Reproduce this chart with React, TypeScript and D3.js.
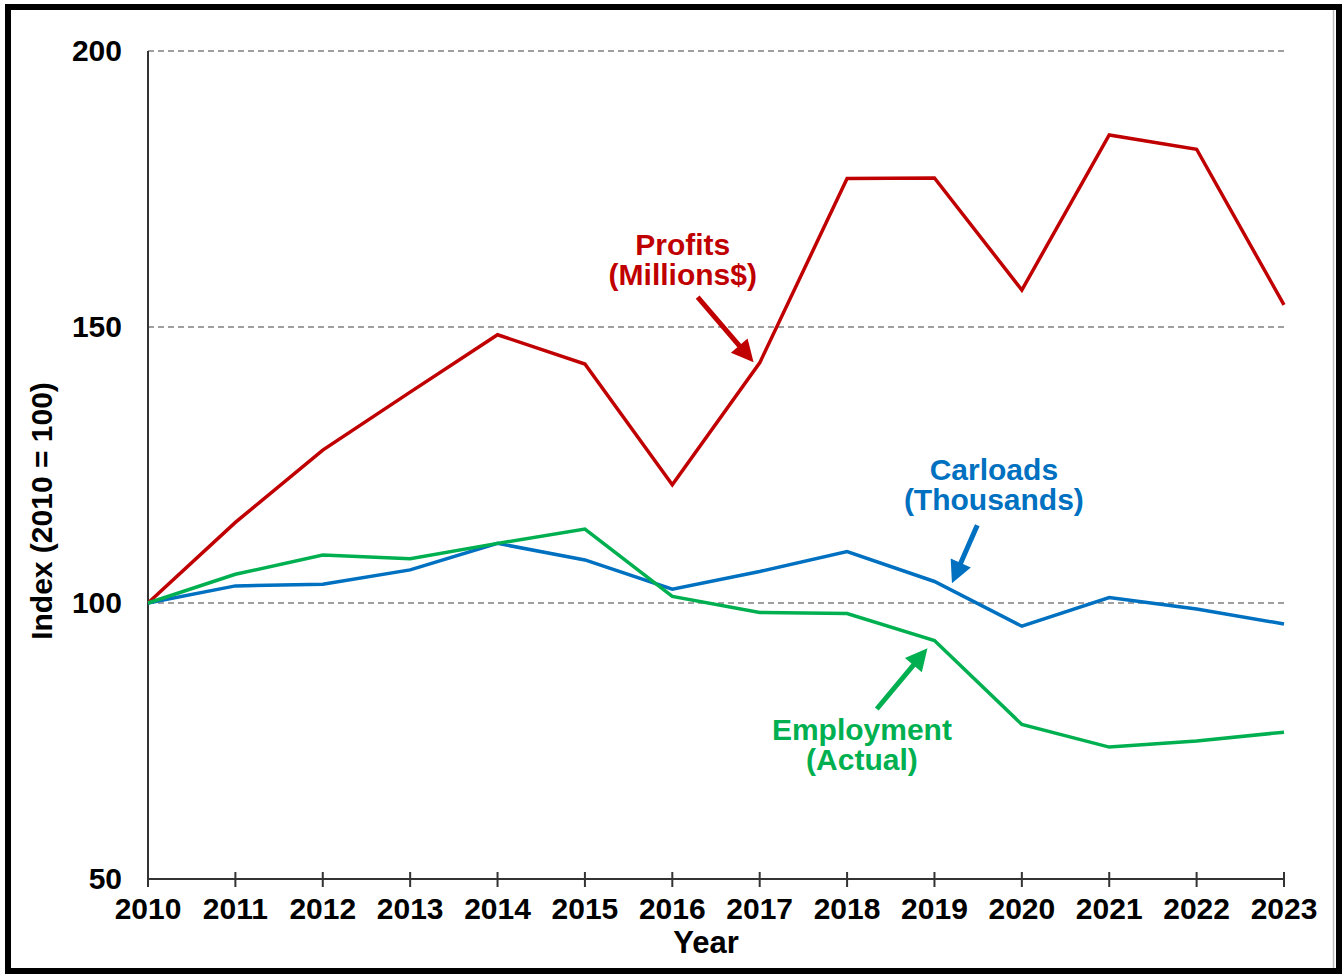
import React from "react";
import * as d3 from "d3";

const years = [2010, 2011, 2012, 2013, 2014, 2015, 2016, 2017, 2018, 2019, 2020, 2021, 2022, 2023];
const profits = [100, 114.6, 127.7, 138.2, 148.6, 143.3, 121.4, 143.5, 176.9, 177.0, 156.7, 184.8, 182.2, 154.0];
const carloads = [100, 103.1, 103.4, 106.0, 110.8, 107.8, 102.5, 105.7, 109.3, 103.9, 95.8, 101.0, 98.9, 96.2];
const employment = [100, 105.2, 108.7, 108.0, 110.8, 113.4, 101.2, 98.3, 98.1, 93.2, 78.0, 73.9, 75.0, 76.6];
const yTicks = [50, 100, 150, 200];
const gridTicks = [100, 150, 200];

const RED = "#C00000";
const BLUE = "#0070C0";
const GREEN = "#00B050";

const series = [
  { name: "Profits", values: profits, color: RED },
  { name: "Carloads", values: carloads, color: BLUE },
  { name: "Employment", values: employment, color: GREEN },
];

const annotations = [
  { lines: ["Profits", "(Millions$)"], color: RED, lx: 2016.12, ly: 163.0, from: [2016.29, 155.4], to: [2016.93, 143.6] },
  { lines: ["Carloads", "(Thousands)"], color: BLUE, lx: 2019.68, ly: 122.3, from: [2019.49, 114.1], to: [2019.2, 103.6] },
  { lines: ["Employment", "(Actual)"], color: GREEN, lx: 2018.17, ly: 75.2, from: [2018.34, 80.8], to: [2018.92, 91.8] },
];

const W = 1343;
const H = 974;
const FONT = "'Liberation Sans', Arial, Helvetica, sans-serif";

export default function App() {
  const x = d3.scaleLinear().domain([2010, 2023]).range([148, 1284]);
  const y = d3.scaleLinear().domain([50, 200]).range([879, 51]);
  const line = d3
    .line<number>()
    .x((_, i) => x(years[i]))
    .y((v) => y(v));

  const arrow = (a: typeof annotations[number]) => {
    const x1 = x(a.from[0]);
    const y1 = y(a.from[1]);
    const x2 = x(a.to[0]);
    const y2 = y(a.to[1]);
    const dx = x2 - x1;
    const dy = y2 - y1;
    const len = Math.sqrt(dx * dx + dy * dy);
    const ux = dx / len;
    const uy = dy / len;
    const hl = 22;
    const hw = 11;
    const bx = x2 - ux * hl;
    const by = y2 - uy * hl;
    const pts = [
      [x2, y2],
      [bx - uy * hw, by + ux * hw],
      [bx + uy * hw, by - ux * hw],
    ];
    return (
      <g>
        <line x1={x1} y1={y1} x2={bx + ux * 2} y2={by + uy * 2} stroke={a.color} strokeWidth={5} />
        <polygon points={pts.map((p) => p.join(",")).join(" ")} fill={a.color} />
      </g>
    );
  };

  return (
    <svg width={W} height={H} style={{ position: "absolute", left: 0, top: 0 }} fontFamily={FONT}>
      <rect x={0} y={0} width={W} height={H} fill="#fff" />
      <rect x={8} y={7} width={1331} height={964} fill="#fff" stroke="#000" strokeWidth={6} />
      <line x1={1333.5} y1={10} x2={1333.5} y2={968} stroke="#bbb" strokeWidth={1.5} />

      {gridTicks.map((t) => (
        <line key={t} x1={x(2010)} x2={x(2023)} y1={y(t)} y2={y(t)} stroke="#808080" strokeWidth={1.5} strokeDasharray="6,4" />
      ))}

      <line x1={x(2010)} x2={x(2010)} y1={y(200)} y2={y(50)} stroke="#333" strokeWidth={2} />
      <line x1={x(2010)} x2={x(2023)} y1={y(50)} y2={y(50)} stroke="#333" strokeWidth={2} />
      {years.map((yr) => (
        <line key={yr} x1={x(yr)} x2={x(yr)} y1={y(50) - 7} y2={y(50) + 8} stroke="#333" strokeWidth={2} />
      ))}

      {yTicks.map((t) => (
        <text key={t} x={122} y={y(t) + 10} textAnchor="end" fontSize={30} fontWeight="bold" fill="#000">
          {t}
        </text>
      ))}
      {years.map((yr) => (
        <text key={yr} x={x(yr)} y={919} textAnchor="middle" fontSize={30} fontWeight="bold" fill="#000">
          {yr}
        </text>
      ))}
      <text x={706} y={953} textAnchor="middle" fontSize={31} fontWeight="bold" fill="#000">
        Year
      </text>
      <text transform={`translate(52,511) rotate(-90)`} textAnchor="middle" fontSize={30} fontWeight="bold" fill="#000">
        Index (2010 = 100)
      </text>

      {series.map((s) => (
        <path key={s.name} d={line(s.values) || ""} fill="none" stroke={s.color} strokeWidth={3.5} strokeLinejoin="miter" />
      ))}

      {annotations.map((a, i) => (
        <g key={i}>
          <text x={x(a.lx)} y={y(a.ly)} textAnchor="middle" fontSize={30} fontWeight="bold" fill={a.color}>
            {a.lines.map((l, j) => (
              <tspan key={j} x={x(a.lx)} dy={j === 0 ? 0 : 30}>
                {l}
              </tspan>
            ))}
          </text>
          {arrow(a)}
        </g>
      ))}
    </svg>
  );
}
